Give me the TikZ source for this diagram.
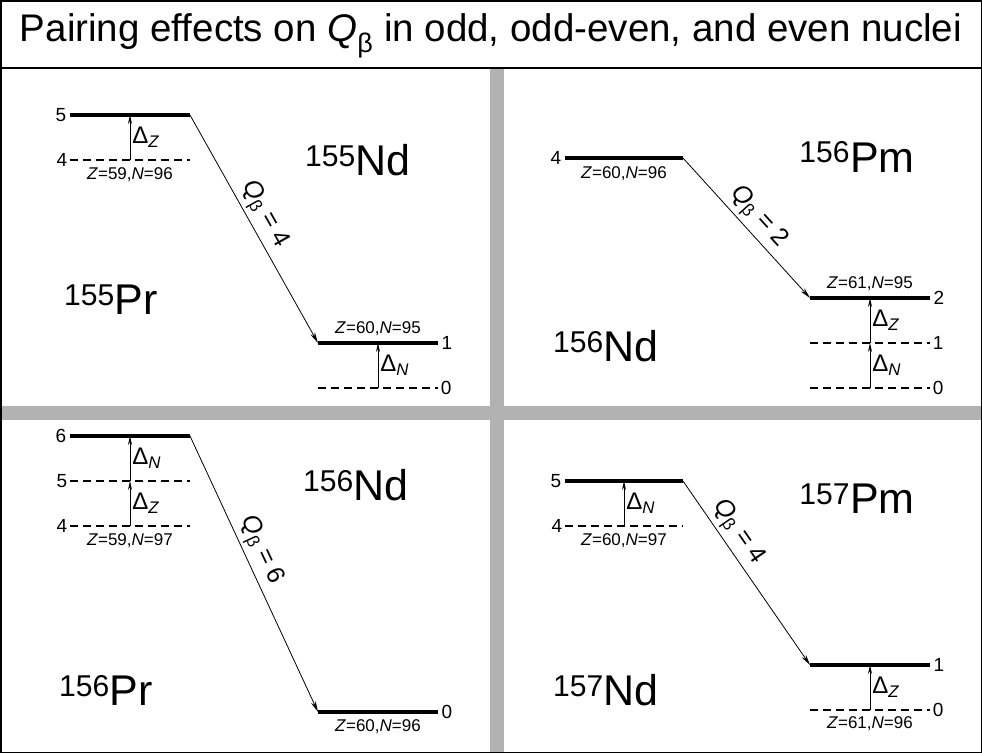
\documentclass[tikz,border=0pt]{standalone}
\usepackage{fontspec}
\setmainfont{Liberation Sans}
\usetikzlibrary{arrows.meta}

\tikzset{
  lev/.style={line width=3.4pt},
  gaplev/.style={line width=1.6pt, dash pattern=on 8pt off 5pt},
  pair/.style={-{Stealth[length=9pt,width=4pt]}, line width=0.8pt},
  decay/.style={-{Stealth[length=11pt,width=5pt]}, line width=0.8pt},
  num/.style={font=\fontsize{19}{19}\selectfont, inner sep=2pt},
  zn/.style={font=\fontsize{17}{17}\selectfont, inner sep=2pt},
  nuc/.style={font=\fontsize{43}{43}\selectfont},
  dl/.style={font=\fontsize{24}{24}\selectfont, right, inner sep=2pt},
  qlab/.style={font=\fontsize{25}{25}\selectfont, sloped, above, inner sep=3pt},
  ttl/.style={font=\fontsize{38.5}{38.5}\selectfont},
}
\newcommand{\zn}[2]{\textit{Z}=#1,\textit{N}=#2}
\newcommand{\dz}{Δ\textsubscript{\textit{Z}}}
\newcommand{\dn}{Δ\textsubscript{\textit{N}}}
\newcommand{\qb}{\textit{Q}\textsubscript{β}}

\begin{document}
\begin{tikzpicture}[x=1pt,y=-1pt]
  \useasboundingbox (0,0) rectangle (982,753);
  % frame and panel separators
  \fill[black!30] (490,68) rectangle (504,753);
  \fill[black!30] (0,406) rectangle (982,420);
  \draw[line width=1.5pt] (0.75,0.75) rectangle (981.25,752.25);
  \draw[line width=1.5pt] (0,68) -- (982,68);
  \node[ttl] (title) at (491,36) {Pairing effects on \qb{} in odd, odd-even, and even nuclei};

  % 155Pr -> 155Nd
  \coordinate (tl5a) at (70,115);  \coordinate (tl5b) at (190,115);
  \coordinate (tl4a) at (70,160);  \coordinate (tl4b) at (190,160);
  \coordinate (tl1a) at (318,343); \coordinate (tl1b) at (438,343);
  \coordinate (tl0a) at (318,388); \coordinate (tl0b) at (438,388);
  \draw[lev] (tl5a) node[num,left] {5} -- (tl5b) coordinate[midway] (tl5m);
  \draw[gaplev] (tl4a) node[num,left] {4} -- (tl4b) coordinate[midway] (tl4m)
    node[zn,midway,below=5pt] (tlzn) {\zn{59}{96}};
  \draw[lev] (tl1a) -- (tl1b) node[num,right] {1} coordinate[midway] (tl1m)
    node[zn,midway,above=4pt] (tlzn2) {\zn{60}{95}};
  \draw[gaplev] (tl0a) -- (tl0b) node[num,right] {0} coordinate[midway] (tl0m);
  \draw[pair] (tl4m) -- (tl5m) node[dl,midway] {\dz};
  \draw[pair] (tl0m) -- (tl1m) node[dl,midway] {\dn};
  \draw[decay] (tl5b) -- (tl1a) node[qlab,pos=0.47] (tlq) {\qb{} = 4};
  \node[nuc] (tlmoth) at (111,300) {\textsuperscript{155}Pr};
  \node[nuc] (tldau) at (358,160) {\textsuperscript{155}Nd};

  % 156Nd -> 156Pm
  \coordinate (tr4a) at (565,158); \coordinate (tr4b) at (683,158);
  \coordinate (tr2a) at (810,298); \coordinate (tr2b) at (930,298);
  \coordinate (tr1a) at (810,343); \coordinate (tr1b) at (930,343);
  \coordinate (tr0a) at (810,388); \coordinate (tr0b) at (930,388);
  \draw[lev] (tr4a) node[num,left] {4} -- (tr4b)
    node[zn,midway,below=5pt] (trzn) {\zn{60}{96}};
  \draw[lev] (tr2a) -- (tr2b) node[num,right] {2} coordinate[midway] (tr2m)
    node[zn,midway,above=4pt] (trzn2) {\zn{61}{95}};
  \draw[gaplev] (tr1a) -- (tr1b) node[num,right] {1} coordinate[midway] (tr1m);
  \draw[gaplev] (tr0a) -- (tr0b) node[num,right] {0} coordinate[midway] (tr0m);
  \draw[pair] (tr1m) -- (tr2m) node[dl,midway] {\dz};
  \draw[pair] (tr0m) -- (tr1m) node[dl,midway] {\dn};
  \draw[decay] (tr4b) -- (tr2a) node[qlab,pos=0.5] (trq) {\qb{} = 2};
  \node[nuc] (trmoth) at (606,346) {\textsuperscript{156}Nd};
  \node[nuc] (trdau) at (857,157) {\textsuperscript{156}Pm};

  % 156Pr -> 156Nd
  \coordinate (bl6a) at (70,436);  \coordinate (bl6b) at (190,436);
  \coordinate (bl5a) at (70,481);  \coordinate (bl5b) at (190,481);
  \coordinate (bl4a) at (70,526);  \coordinate (bl4b) at (190,526);
  \coordinate (bl0a) at (318,712); \coordinate (bl0b) at (438,712);
  \draw[lev] (bl6a) node[num,left] {6} -- (bl6b) coordinate[midway] (bl6m);
  \draw[gaplev] (bl5a) node[num,left] {5} -- (bl5b) coordinate[midway] (bl5m);
  \draw[gaplev] (bl4a) node[num,left] {4} -- (bl4b) coordinate[midway] (bl4m)
    node[zn,midway,below=5pt] (blzn) {\zn{59}{97}};
  \draw[lev] (bl0a) -- (bl0b) node[num,right] {0}
    node[zn,midway,below=4pt] (blzn2) {\zn{60}{96}};
  \draw[pair] (bl4m) -- (bl5m) node[dl,midway] {\dz};
  \draw[pair] (bl5m) -- (bl6m) node[dl,midway] {\dn};
  \draw[decay] (bl6b) -- (bl0a) node[qlab,pos=0.44] (blq) {\qb{} = 6};
  \node[nuc] (blmoth) at (106,690) {\textsuperscript{156}Pr};
  \node[nuc] (bldau) at (356,485) {\textsuperscript{156}Nd};

  % 157Nd -> 157Pm
  \coordinate (br5a) at (565,481); \coordinate (br5b) at (683,481);
  \coordinate (br4a) at (565,526); \coordinate (br4b) at (683,526);
  \coordinate (br1a) at (810,665); \coordinate (br1b) at (930,665);
  \coordinate (br0a) at (810,710); \coordinate (br0b) at (930,710);
  \draw[lev] (br5a) node[num,left] {5} -- (br5b) coordinate[midway] (br5m);
  \draw[gaplev] (br4a) node[num,left] {4} -- (br4b) coordinate[midway] (br4m)
    node[zn,midway,below=5pt] (brzn) {\zn{60}{97}};
  \draw[lev] (br1a) -- (br1b) node[num,right] {1} coordinate[midway] (br1m);
  \draw[gaplev] (br0a) -- (br0b) node[num,right] {0} coordinate[midway] (br0m)
    node[zn,midway,below=4pt] (brzn2) {\zn{61}{96}};
  \draw[pair] (br4m) -- (br5m) node[dl,midway] {\dn};
  \draw[pair] (br0m) -- (br1m) node[dl,midway] {\dz};
  \draw[decay] (br5b) -- (br1a) node[qlab,pos=0.33] (brq) {\qb{} = 4};
  \node[nuc] (brmoth) at (606,690) {\textsuperscript{157}Nd};
  \node[nuc] (brdau) at (857,499) {\textsuperscript{157}Pm};
\end{tikzpicture}
\end{document}
